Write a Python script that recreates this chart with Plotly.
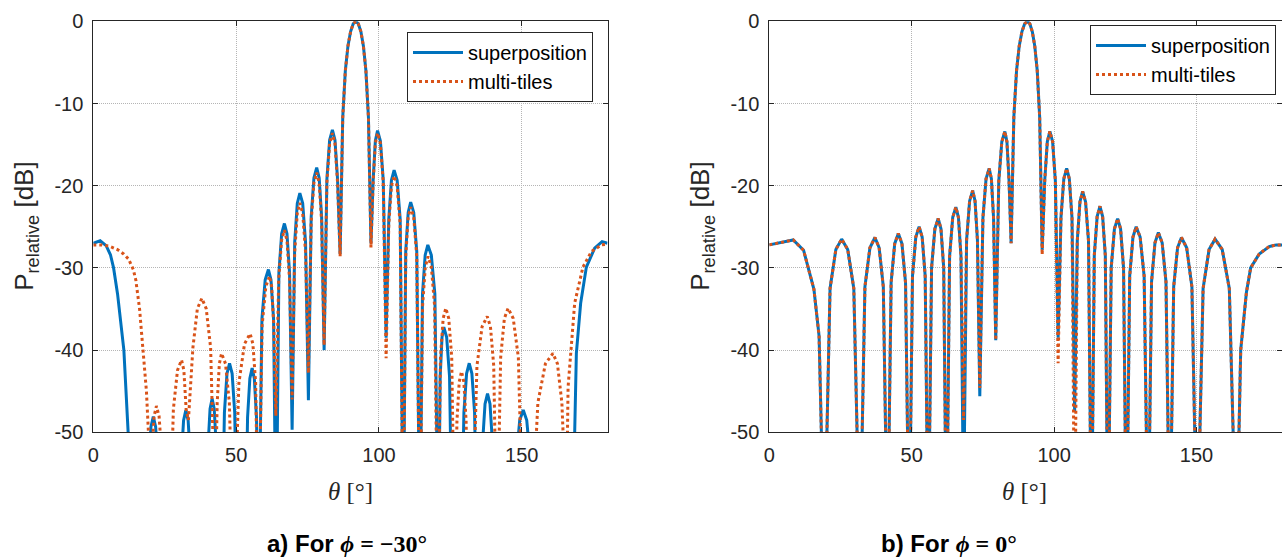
import plotly.graph_objects as go

# ---------------- data ----------------
x_ticks = [0, 50, 100, 150]
x_ticklabels = ["0", "50", "100", "150"]
y_ticks = [0, -10, -20, -30, -40, -50]
y_ticklabels = ["0", "-10", "-20", "-30", "-40", "-50"]

# a) phi = -30 deg, superposition
theta_sup_a = [
    0, 2.4, 4.5, 6.0, 7.1, 8.5, 10.7, 12.2, 12.8,
    18.5, 19.33, 20.17, 21.0, 21.83, 22.67, 23.5,
    30.0, 30.8, 31.6, 32.4, 33.2, 34.0, 34.8,
    39.4, 40.13, 40.87, 41.6, 42.33, 43.07, 43.8,
    45.0, 45.9, 46.8, 47.7, 48.6, 49.5, 50.4,
    53.2, 54.0, 54.8, 55.6, 56.37, 57.13, 57.9,
    59.03, 60.17, 61.3, 62.2, 63.1, 64.0,
    64.97, 65.93, 66.9, 67.8, 68.7, 69.6,
    70.5, 71.4, 72.3, 73.3, 74.3, 75.3,
    76.27, 77.23, 78.2, 79.07, 79.93, 80.8,
    81.77, 82.73, 83.7, 84.6, 85.5, 86.4,
    87.32, 88.23, 89.15, 90.07, 90.98, 91.9, 92.78, 93.67, 94.55, 95.43, 96.32, 97.2,
    97.97, 98.73, 99.5, 100.5, 101.5, 102.5,
    103.43, 104.37, 105.3, 106.37, 107.43, 108.5,
    109.37, 110.23, 111.1, 112.17, 113.23, 114.3,
    115.23, 116.17, 117.1, 118.33, 119.57, 120.8,
    121.43, 122.07, 122.7, 123.7, 124.7, 125.7,
    128.8, 129.73, 130.67, 131.6, 132.53, 133.47, 134.4,
    135.4, 136.27, 137.13, 138.0, 138.87, 139.73, 140.6,
    146.8, 148.03, 149.27, 150.5, 151.73, 152.97, 154.2,
    167.6, 169.1, 170.6, 172.6, 175.5, 178.1, 180.0]
p_sup_a = [
    -27.0, -26.7, -27.3, -28.4, -30.0, -33.2, -40.0, -50.0, -65,
    -65, -54.1, -49.35, -48.1, -49.35, -54.1, -65,
    -65, -53.3, -48.55, -47.3, -48.55, -53.3, -65,
    -65, -51.9, -47.15, -45.9, -47.15, -51.9, -65,
    -65, -47.6, -42.85, -41.6, -42.85, -47.6, -65,
    -65, -48.2, -43.45, -42.2, -43.45, -48.2, -65,
    -36.2, -31.45, -30.2, -31.45, -36.2, -65,
    -30.6, -25.85, -24.6, -25.85, -30.6, -49.7,
    -26.9, -22.15, -20.9, -22.15, -26.9, -46.1,
    -23.8, -19.05, -17.8, -19.05, -23.8, -40.0,
    -19.2, -14.45, -13.2, -14.45, -19.2, -28.3,
    -11.7, -6.0, -3.0, -1.25, -0.3, 0.0, -0.3, -1.25, -3.0, -6.0, -11.7, -27.0,
    -19.3, -14.55, -13.3, -14.55, -19.3, -38.5,
    -24.1, -19.35, -18.1, -19.35, -24.1, -65,
    -28.0, -23.25, -22.0, -23.25, -28.0, -65,
    -33.2, -28.45, -27.2, -28.45, -33.2, -65,
    -43.2, -38.45, -37.2, -38.45, -43.2, -65,
    -65, -47.6, -42.85, -41.6, -42.85, -47.6, -65,
    -65, -51.3, -46.55, -45.3, -46.55, -51.3, -65,
    -65, -53.3, -48.55, -47.3, -48.55, -53.3, -65,
    -65, -40.4, -34.3, -29.9, -27.6, -26.8, -27.0]

# a) phi = -30 deg, multi-tiles
theta_mt_a = [
    0, 3, 6, 8.6, 10.6, 12.3, 14.0, 14.9, 16.2, 17.5, 18.6, 19.3, 19.6,
    20.43, 21.27, 22.1, 23.03, 23.97, 24.9,
    26.6, 28.03, 29.47, 30.9, 31.7, 32.5, 33.3,
    34.87, 36.43, 38.0, 39.53, 41.07, 42.6,
    43.37, 44.13, 44.9, 46.27, 47.63, 49.0,
    50.97, 52.93, 54.9, 55.87, 56.83, 57.8,
    59.1, 60.4, 61.7, 62.43, 63.17, 63.9,
    64.9, 65.9, 66.9, 67.8, 68.7, 69.6,
    70.5, 71.4, 72.3, 73.3, 74.3, 75.3,
    76.27, 77.23, 78.2, 79.07, 79.93, 80.8,
    81.77, 82.73, 83.7, 84.6, 85.5, 86.4,
    87.32, 88.23, 89.15, 90.07, 90.98, 91.9, 92.78, 93.67, 94.55, 95.43, 96.32, 97.2,
    97.97, 98.73, 99.5, 100.5, 101.5, 102.5,
    103.43, 104.37, 105.3, 106.37, 107.43, 108.5,
    109.37, 110.23, 111.1, 112.17, 113.23, 114.3,
    115.27, 116.23, 117.2, 118.33, 119.47, 120.6,
    121.53, 122.47, 123.4, 124.43, 125.47, 126.5,
    127.3, 128.1, 128.9, 129.7, 130.5, 131.3,
    132.5, 134.3, 136.1, 137.9, 139.03, 140.17, 141.3,
    142.6, 143.9, 145.2, 147.0, 148.8, 150.6,
    153.0, 155.63, 158.27, 160.9, 162.47, 164.03, 165.6,
    166.2, 167.4, 168.5, 171.4, 174.4, 177.9, 180.0]
p_mt_a = [
    -27.2, -27.2, -27.4, -27.8, -28.3, -28.9, -30.2, -31.5, -35.0, -40.0, -45.0, -50.0, -65,
    -52.8, -48.05, -46.8, -48.05, -52.8, -65,
    -65, -47.2, -42.45, -41.2, -42.45, -47.2, -48.5,
    -39.7, -34.95, -33.7, -34.95, -39.7, -60,
    -46.4, -41.65, -40.4, -41.65, -46.4, -65,
    -44.0, -39.25, -38.0, -39.25, -44.0, -65,
    -37.0, -32.25, -31.0, -32.25, -37.0, -48.0,
    -31.4, -26.65, -25.4, -26.65, -31.4, -46.0,
    -28.1, -23.35, -22.1, -23.35, -28.1, -42.8,
    -24.4, -19.65, -18.4, -19.65, -24.4, -39.4,
    -19.6, -14.85, -13.6, -14.85, -19.6, -28.6,
    -11.7, -6.0, -3.0, -1.25, -0.3, 0.0, -0.3, -1.25, -3.0, -6.0, -11.7, -27.5,
    -19.6, -14.85, -13.6, -14.85, -19.6, -41.0,
    -24.8, -20.05, -18.8, -20.05, -24.8, -65,
    -28.6, -23.85, -22.6, -23.85, -28.6, -65,
    -34.6, -29.85, -28.6, -29.85, -34.6, -65,
    -40.9, -36.15, -34.9, -36.15, -40.9, -65,
    -48.6, -43.85, -42.6, -43.85, -48.6, -65,
    -65, -41.9, -37.15, -35.9, -37.15, -41.9, -65,
    -40.9, -36.15, -34.9, -36.15, -40.9, -65,
    -65, -46.4, -41.65, -40.4, -41.65, -46.4, -60,
    -44.5, -39.2, -34.3, -29.9, -28.0, -27.2, -27.1]

# b) phi = 0 deg
theta_b = [
    0, 4, 8.4, 12.03, 15.67, 17.48, 19.3,
    21.33, 23.37, 25.4, 27.53, 29.67, 31.8,
    33.57, 35.33, 37.1, 38.57, 40.03, 41.5,
    42.77, 44.03, 45.3, 46.57, 47.83, 49.1,
    50.27, 51.43, 52.6, 53.67, 54.73, 55.8,
    56.97, 58.13, 59.3, 60.27, 61.23, 62.2,
    63.3, 64.4, 65.5, 66.4, 67.3, 68.2,
    69.27, 70.33, 71.4, 72.23, 73.07, 73.9,
    75.0, 76.1, 77.2, 77.97, 78.73, 79.5,
    80.57, 81.63, 82.7, 83.43, 84.17, 84.9,
    85.85, 86.8, 87.75, 88.7, 89.65, 90.6, 91.47, 92.33, 93.2, 94.07, 94.93, 95.8,
    96.7, 97.6, 98.5, 99.47, 100.43, 101.4,
    102.4, 103.4, 104.4, 105.33, 106.27, 107.2,
    108.13, 109.07, 110.0, 111.03, 112.07, 113.1,
    114.1, 115.1, 116.1, 117.03, 117.97, 118.9,
    120.03, 121.17, 122.3, 123.33, 124.37, 125.4,
    126.53, 127.67, 128.8, 130.2, 131.6, 133.0,
    134.2, 135.4, 136.6, 137.93, 139.27, 140.6,
    141.97, 143.33, 144.7, 146.53, 148.37, 150.2,
    152.3, 154.4, 156.5, 159.0, 161.5, 164.0,
    165.5, 167.5, 169.0, 172.0, 175.5, 178.0, 180.0]
p_sup_b = [
    -27.2, -26.9, -26.6, -27.85, -32.6, -38.3, -65,
    -32.5, -27.75, -26.5, -27.75, -32.5, -65,
    -32.3, -27.55, -26.3, -27.55, -32.3, -65,
    -31.8, -27.05, -25.8, -27.05, -31.8, -65,
    -31.0, -26.25, -25.0, -26.25, -31.0, -65,
    -30.0, -25.25, -24.0, -25.25, -30.0, -65,
    -28.6, -23.85, -22.6, -23.85, -28.6, -60,
    -26.6, -21.85, -20.6, -21.85, -26.6, -45.6,
    -23.9, -19.15, -17.9, -19.15, -23.9, -38.8,
    -19.4, -14.65, -13.4, -14.65, -19.4, -27.0,
    -11.7, -6.0, -3.0, -1.25, -0.3, 0.0, -0.3, -1.25, -3.0, -6.0, -11.7, -27.8,
    -19.4, -14.65, -13.4, -14.65, -19.4, -38.5,
    -23.9, -19.15, -17.9, -19.15, -23.9, -47.5,
    -26.7, -21.95, -20.7, -21.95, -26.7, -65,
    -28.5, -23.75, -22.5, -23.75, -28.5, -65,
    -30.0, -25.25, -24.0, -25.25, -30.0, -65,
    -31.0, -26.25, -25.0, -26.25, -31.0, -65,
    -31.7, -26.95, -25.7, -26.95, -31.7, -65,
    -32.3, -27.55, -26.3, -27.55, -32.3, -65,
    -32.5, -27.75, -26.5, -27.75, -32.5, -65,
    -40.0, -33.0, -30.0, -28.3, -27.4, -27.2, -27.2]
p_mt_b = [
    -27.2, -26.9, -26.6, -27.85, -32.6, -38.3, -65,
    -32.5, -27.75, -26.5, -27.75, -32.5, -65,
    -32.3, -27.55, -26.3, -27.55, -32.3, -65,
    -31.8, -27.05, -25.8, -27.05, -31.8, -65,
    -31.0, -26.25, -25.0, -26.25, -31.0, -65,
    -30.0, -25.25, -24.0, -25.25, -30.0, -65,
    -28.6, -23.85, -22.6, -23.85, -28.6, -48.5,
    -26.6, -21.85, -20.6, -21.85, -26.6, -44.6,
    -23.9, -19.15, -17.9, -19.15, -23.9, -38.8,
    -19.4, -14.65, -13.4, -14.65, -19.4, -27.0,
    -11.7, -6.0, -3.0, -1.25, -0.3, 0.0, -0.3, -1.25, -3.0, -6.0, -11.7, -28.4,
    -19.4, -14.65, -13.4, -14.65, -19.4, -41.6,
    -23.9, -19.15, -17.9, -19.15, -23.9, -65,
    -26.7, -21.95, -20.7, -21.95, -26.7, -65,
    -28.5, -23.75, -22.5, -23.75, -28.5, -65,
    -30.0, -25.25, -24.0, -25.25, -30.0, -65,
    -31.0, -26.25, -25.0, -26.25, -31.0, -65,
    -31.7, -26.95, -25.7, -26.95, -31.7, -65,
    -32.3, -27.55, -26.3, -27.55, -32.3, -65,
    -32.5, -27.75, -26.5, -27.75, -32.5, -65,
    -40.0, -33.0, -30.0, -28.3, -27.4, -27.2, -27.2]

series_names = ["superposition", "multi-tiles"]
captions = ["a) For ", "b) For "]
caption_math = ["= \u221230\u00b0", "= 0\u00b0"]

# ---------------- styling ----------------
W, H = 1282, 560
BLUE = "#0072BD"
ORANGE = "#D95319"
AX = "#262626"
SANS = "Liberation Sans, Arial, sans-serif"
SERIF = "Liberation Serif, DejaVu Serif, serif"

def px(xp):
    return xp / W

def py(yp):
    return 1 - yp / H

fig = go.Figure()
fig.add_trace(go.Scatter(x=theta_sup_a, y=p_sup_a, mode="lines", name=series_names[0],
                         line=dict(color=BLUE, width=3), xaxis="x", yaxis="y", legend="legend"))
fig.add_trace(go.Scatter(x=theta_mt_a, y=p_mt_a, mode="lines", name=series_names[1],
                         line=dict(color=ORANGE, width=3, dash="3px,3px"), xaxis="x", yaxis="y",
                         legend="legend"))
fig.add_trace(go.Scatter(x=theta_b, y=p_sup_b, mode="lines", name=series_names[0],
                         line=dict(color=BLUE, width=3), xaxis="x2", yaxis="y2", legend="legend2"))
fig.add_trace(go.Scatter(x=theta_b, y=p_mt_b, mode="lines", name=series_names[1],
                         line=dict(color=ORANGE, width=3, dash="3px,3px"), xaxis="x2", yaxis="y2",
                         legend="legend2"))

ydom = [py(432.3), py(21.3)]
axis_common = dict(ticks="inside", ticklen=5, tickcolor=AX, showline=True, linecolor=AX,
                   linewidth=1, mirror="ticks", showgrid=True, gridcolor="#b5b5b5",
                   griddash="1px,1px", gridwidth=1, zeroline=False, automargin=False,
                   ticklabelstandoff=5, tickfont=dict(family=SANS, size=20, color=AX))
common_x = dict(range=[0, 180], tickvals=x_ticks, ticktext=x_ticklabels, **axis_common)
common_y = dict(range=[-50, 0], tickvals=y_ticks, ticktext=y_ticklabels, **axis_common)

legend_style = dict(bgcolor="white", bordercolor=AX, borderwidth=1,
                    font=dict(family=SANS, size=20, color="black"),
                    xanchor="right", yanchor="top", itemwidth=50, tracegroupgap=0)

fig.update_layout(
    width=W, height=H, margin=dict(l=0, r=0, t=0, b=0, autoexpand=False),
    paper_bgcolor="white", plot_bgcolor="white",
    xaxis=dict(domain=[px(93.3), px(607.5)], anchor="y", **common_x),
    yaxis=dict(domain=ydom, anchor="x", **common_y),
    xaxis2=dict(domain=[px(769.3), 1.0], anchor="y2", **common_x),
    yaxis2=dict(domain=ydom, anchor="x2", **common_y),
    legend=dict(x=px(593), y=py(32), **legend_style),
    legend2=dict(x=px(1276), y=py(25), **legend_style),
)

ytitle = "P<sub>relative</sub> [dB]"
xtitle = "<i>\u03b8</i> [\u00b0]"
annots = []
for off in (0, 676):
    annots.append(dict(text=ytitle, x=px(26 + off), y=py(226.8), xref="paper", yref="paper",
                       showarrow=False, textangle=-90, xanchor="center", yanchor="middle",
                       font=dict(family=SANS, size=26, color=AX)))
for cx in (350, 1024):
    annots.append(dict(text=xtitle, x=px(cx), y=py(491), xref="paper", yref="paper",
                       showarrow=False, xanchor="center", yanchor="middle",
                       font=dict(family=SERIF, size=25, color=AX)))
for cap, math, cx in zip(captions, caption_math, (347, 949)):
    txt = ("<b>" + cap + "</b><span style=\"font-family:Liberation Serif\"><b><i>\u03d5</i> "
           + math + "</b></span>")
    annots.append(dict(text=txt, x=px(cx), y=py(543), xref="paper", yref="paper",
                       showarrow=False, xanchor="center", yanchor="middle",
                       font=dict(family=SANS, size=24, color="black")))
fig.update_layout(annotations=annots)

fig.write_html("out.html")
